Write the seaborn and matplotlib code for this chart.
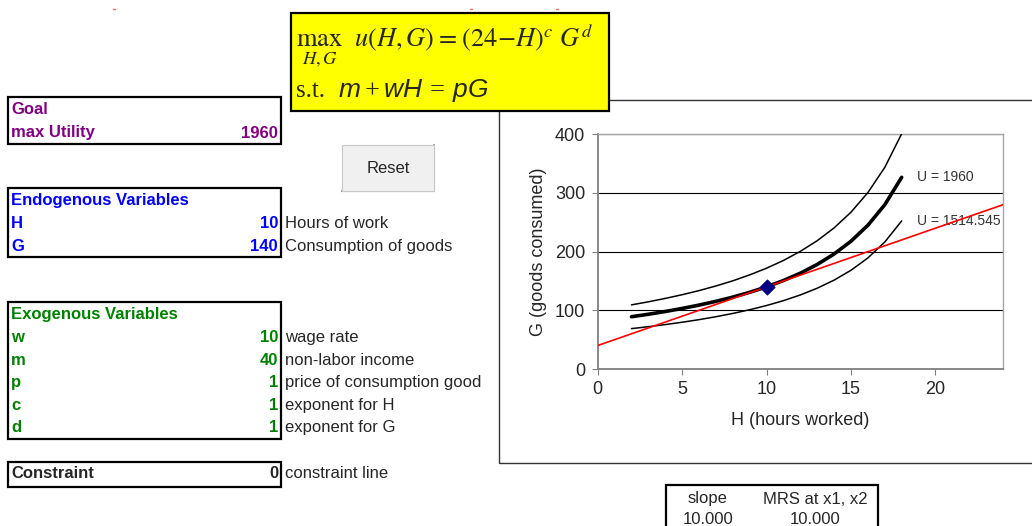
import pandas as pd
import seaborn as sns
import matplotlib.pyplot as plt
from matplotlib.patches import Rectangle
from matplotlib.lines import Line2D

hours = [2, 3, 4, 5, 6, 7, 8, 9, 10, 11, 12, 13, 14, 15, 16, 17, 18]
g_low = [68.8, 72.1, 75.7, 79.7, 84.1, 89.1, 94.7, 101.0, 108.2, 116.5,
         126.2, 137.7, 151.5, 168.3, 189.3, 216.4, 252.4]
g_opt = [89.1, 93.3, 98.0, 103.2, 108.9, 115.3, 122.5, 130.7, 140.0, 150.8,
         163.3, 178.2, 196.0, 217.8, 245.0, 280.0, 326.7]
g_high = [109.3, 114.5, 120.3, 126.6, 133.6, 141.5, 150.3, 160.4, 171.8, 185.0,
          200.5, 218.7, 240.5, 267.3, 300.7, 343.6, 400.9]
budget_h = [0, 24]
budget_g = [40, 280]
opt_h = [10]
opt_g = [140]
curve_labels = ["U = 1960", "U = 1514.545"]

goal_value = "1960"
endo_names = ["H", "G"]
endo_values = ["10", "140"]
endo_desc = ["Hours of work", "Consumption of goods"]
exo_names = ["w", "m", "p", "c", "d"]
exo_values = ["10", "40", "1", "1", "1"]
exo_desc = ["wage rate", "non-labor income", "price of consumption good",
            "exponent for H", "exponent for G"]
constraint_value = "0"
slope_value = "10.000"
mrs_value = "10.000"

sns.set_style("white")
plt.rcParams["font.family"] = ["Liberation Sans", "DejaVu Sans"]
plt.rcParams["mathtext.it"] = "Liberation Sans:italic"
plt.rcParams["mathtext.rm"] = "Liberation Serif"

W, H = 1032, 526
fig = plt.figure(figsize=(W / 100, H / 100), dpi=100)


def px(x, y):
    return x / W, 1 - y / H


def box(x0, y0, x1, y1, lw=1.6, ec="black", fc="none", z=2):
    fig.patches.append(Rectangle(px(x0, y1), (x1 - x0) / W, (y1 - y0) / H,
                                 transform=fig.transFigure, lw=lw, ec=ec, fc=fc, zorder=z))


def txt(x, y, s, **kw):
    kw.setdefault("va", "center")
    kw.setdefault("fontsize", 12)
    fig.text(*px(x, y), s, **kw)


# chart area frame
box(499, 100, 1040, 463, lw=1.0, ec="#333333", z=1)

# formula box
box(291, 13, 609, 111, lw=1.6, ec="black", fc="#ffff00", z=5)
txt(296, 45, r"$\max_{H,G}\ \ u(H,G)\;=\;\left(24 - H\right)^{c}\, G^{d}$", fontsize=19,
    math_fontfamily="stix", zorder=6)
txt(296, 91, "s.t.", fontsize=18, family="Liberation Serif", zorder=6)
txt(338, 91, r"$m + wH\, =\, pG$", fontsize=19, math_fontfamily="custom", zorder=6)

# goal
purple, blue, green = "#800080", "#0000ff", "#008000"
box(8, 97, 281, 144)
txt(11, 110, "Goal", color=purple, weight="bold")
txt(11, 133, "max Utility", color=purple, weight="bold")
txt(278, 133, goal_value, color=purple, weight="bold", ha="right")

# reset button
box(342, 145, 434, 191, lw=0.8, ec="#c8c8c8", fc="#f0f0f0")
fig.lines.append(Line2D([342 / W, 434 / W, 434 / W], [1 - 191 / H, 1 - 191 / H, 1 - 145 / H],
                        transform=fig.transFigure, color="#8a8a8a", lw=1.5))
txt(388, 168, "Reset", ha="center")

# endogenous
box(8, 188, 281, 257)
txt(11, 201, "Endogenous Variables", color=blue, weight="bold")
for i, (n, v, d) in enumerate(zip(endo_names, endo_values, endo_desc)):
    y = 224 + i * 22.7
    txt(11, y, n, color=blue, weight="bold")
    txt(278, y, v, color=blue, weight="bold", ha="right")
    txt(285, y, d)

# exogenous
box(8, 302, 281, 439)
txt(11, 315, "Exogenous Variables", color=green, weight="bold")
for i, (n, v, d) in enumerate(zip(exo_names, exo_values, exo_desc)):
    y = 337.7 + i * 22.45
    txt(11, y, n, color=green, weight="bold")
    txt(278, y, v, color=green, weight="bold", ha="right")
    txt(285, y, d)

# constraint
box(8, 462, 281, 487)
txt(11, 474, "Constraint", weight="bold")
txt(278, 474, constraint_value, weight="bold", ha="right")
txt(285, 474, "constraint line")

# slope / MRS box
box(666, 485, 878, 540)
txt(708, 499, "slope", ha="center")
txt(815, 499, "MRS at x1, x2", ha="center")
txt(708, 519, slope_value, ha="center")
txt(815, 519, mrs_value, ha="center")

# small red marks at the top
for xm in [113, 470, 556]:
    fig.lines.append(Line2D([xm / W, (xm + 2) / W], [1 - 9 / H, 1 - 9 / H],
                            transform=fig.transFigure, color="#ff6060", lw=1))

# ---- chart ----
x0, x1, y0, y1 = 597.7, 1003, 134.3, 369
ax = fig.add_axes([x0 / W, 1 - y1 / H, (x1 - x0) / W, (y1 - y0) / H])

for g, lw in [(g_high, 1.1), (g_opt, 2.6), (g_low, 1.1)]:
    df = pd.DataFrame({"H": hours, "G": g})
    sns.lineplot(data=df, x="H", y="G", color="black", lw=lw, ax=ax, zorder=3)
sns.lineplot(x=budget_h, y=budget_g, color="#ff0000", lw=1.2, ax=ax, zorder=4)
sns.scatterplot(x=opt_h, y=opt_g, marker="D", s=60, color="#000080",
                edgecolor="#000080", ax=ax, zorder=5)

ax.text(18.9, g_opt[-1], curve_labels[0], fontsize=10, color="#333333", va="center")
ax.text(18.9, g_low[-1], curve_labels[1], fontsize=10, color="#333333", va="center")

ax.set_xlim(0, 24)
ax.set_ylim(0, 400)
ax.set_xticks([0, 5, 10, 15, 20])
ax.set_yticks([0, 100, 200, 300, 400])
ax.yaxis.grid(True, color="black", lw=0.8)
ax.set_axisbelow(True)
ax.tick_params(axis="both", labelsize=13, length=4, direction="out",
               color="#808080", bottom=True, left=True, pad=5)
for side in ["left", "bottom"]:
    ax.spines[side].set_color("#808080")
    ax.spines[side].set_linewidth(1.3)
for side in ["top", "right"]:
    ax.spines[side].set_color("#a6a6a6")
    ax.spines[side].set_linewidth(1.0)
ax.set_xlabel("H (hours worked)", fontsize=13, labelpad=10)
ax.set_ylabel("G (goods consumed)", fontsize=13, labelpad=6)

fig.savefig("out.png", dpi=100)
